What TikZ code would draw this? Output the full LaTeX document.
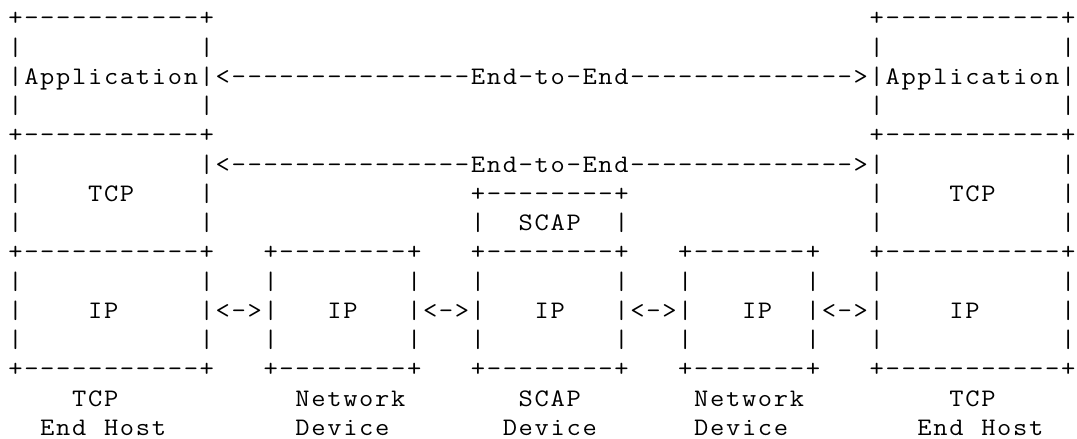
\documentclass[tikz,border=0pt]{standalone}
\usepackage{fontspec}
\setmonofont[FakeStretch=1.1]{Latin Modern Mono}
\tikzset{ascii/.style={inner sep=0pt, outer sep=0pt, anchor=base, text=black,
  font=\ttfamily\fontsize{12.6pt}{14.6pt}\selectfont}}
\newcount\asciicol
% one character per cell: \R{column}{row}{characters}
\newcommand\R[3]{\global\asciicol=#1\relax\def\asciirow{#2}\Rloop#3\relax}
\def\Rloop#1{\ifx\relax#1\else
  \node[ascii] (c-\asciirow-\the\asciicol) at ({15.475+15.95*\the\asciicol},{84.4+(\asciirow-3)*29.25}) {#1};%
  \global\advance\asciicol by 1\relax\expandafter\Rloop\fi}
% run of dashes: \D{first column}{row}{count}
\newcommand\D[3]{\foreach \k in {1,...,#3}{%
  \node[ascii] (d-#2-#1-\k) at ({15.475+15.95*(#1+\k-1)},{84.4+(#2-3)*29.25}) {-};}}
% box edge: \B{left column}{right column}{row}
\newcommand\B[3]{\R{#1}{#3}{+}\pgfmathtruncatemacro\nd{#2-#1-1}%
  \pgfmathtruncatemacro\fd{#1+1}\D{\fd}{#3}{\nd}\R{#2}{#3}{+}}
% vertical bars: \V{row}{column list}
\newcommand\V[2]{\foreach \cl in {#2}{\R{\cl}{#1}{|}}}
\begin{document}
\begin{tikzpicture}[x=0.5pt,y=-0.5pt]
\fill[white] (0,0) rectangle (1077,439);
\useasboundingbox (0,0) rectangle (1077,439);
% line 1
\B{0}{12}{1}\B{54}{66}{1}
% line 2
\V{2}{0,12,54,66}
% line 3
\R{0}{3}{|Application|<}\D{14}{3}{15}\R{29}{3}{End-to-End}\D{39}{3}{14}\R{53}{3}{>|Application|}
% line 4
\V{4}{0,12,54,66}
% line 5
\B{0}{12}{5}\B{54}{66}{5}
% line 6
\R{0}{6}{|}\R{12}{6}{|<}\D{14}{6}{15}\R{29}{6}{End-to-End}\D{39}{6}{14}\R{53}{6}{>|}\R{66}{6}{|}
% line 7
\V{7}{0,12,54,66}\R{5}{7}{TCP}\R{59}{7}{TCP}\B{29}{38}{7}
% line 8
\V{8}{0,12,29,38,54,66}\R{32}{8}{SCAP}
% line 9
\B{0}{12}{9}\B{16}{25}{9}\B{29}{38}{9}\B{42}{50}{9}\B{54}{66}{9}
% line 10
\V{10}{0,12,16,25,29,38,42,50,54,66}
% line 11
\R{0}{11}{|}\R{5}{11}{IP}
\R{12}{11}{|<->|}\R{20}{11}{IP}
\R{25}{11}{|<->|}\R{33}{11}{IP}
\R{38}{11}{|<->|}\R{46}{11}{IP}
\R{50}{11}{|<->|}\R{59}{11}{IP}
\R{66}{11}{|}
% line 12
\V{12}{0,12,16,25,29,38,42,50,54,66}
% line 13
\B{0}{12}{13}\B{16}{25}{13}\B{29}{38}{13}\B{42}{50}{13}\B{54}{66}{13}
% line 14
\R{4}{14}{TCP}\R{18}{14}{Network}\R{32}{14}{SCAP}\R{43}{14}{Network}\R{59}{14}{TCP}
% line 15
\R{2}{15}{End}\R{6}{15}{Host}\R{18}{15}{Device}\R{31}{15}{Device}\R{43}{15}{Device}
\R{57}{15}{End}\R{61}{15}{Host}
\end{tikzpicture}
\end{document}
